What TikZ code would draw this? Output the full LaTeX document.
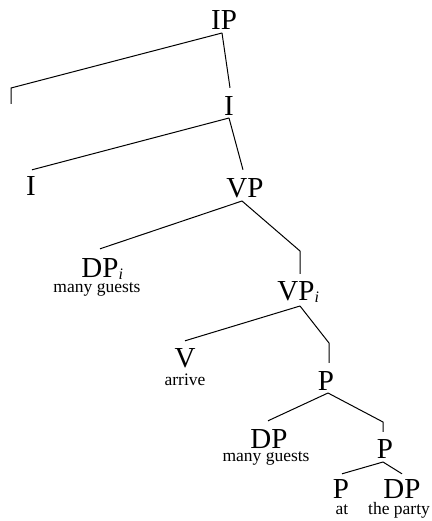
\documentclass[tikz,border=0pt]{standalone}
\usepackage{fontspec}
\setmainfont{Liberation Serif}
\newcommand\idx{\rlap{\raisebox{-0.1em}{\fontsize{16}{16}\itshape\selectfont i}}}
\tikzset{
  cat/.style={anchor=base,inner sep=0pt,font=\fontsize{29}{29}\selectfont},
  lex/.style={anchor=base,inner sep=0pt,font=\fontsize{17.5}{17.5}\selectfont},
  branch/.style={line width=1pt,line join=round}
}
\begin{document}
\begin{tikzpicture}[x=1pt,y=-1pt]
\useasboundingbox (0,0) rectangle (431,521);
% nodes
\node[cat] (ip) at (224,30) {IP};
\node[cat] (i1) at (229,116) {I};
\node[cat] (i0) at (31,196) {I};
\node[cat] (vp) at (245,197) {VP};
\node[cat] (dpi) at (100,277) {DP\idx};
\node[lex] (mg1) at (97,292) {many guests};
\node[cat] (vpi) at (296,300) {VP\idx};
\node[cat] (v) at (185,367) {V};
\node[lex] (arr) at (185,385) {arrive};
\node[cat] (p1) at (326,390) {P};
\node[cat] (dp) at (269,448) {DP};
\node[lex] (mg2) at (266,461) {many guests};
\node[cat] (p2) at (385,458) {P};
\node[cat] (p3) at (341,498) {P};
\node[lex] (at) at (342,514) {at};
\node[cat] (dp2) at (402,498) {DP};
\node[lex] (party) at (399,514) {the party};
% apex points below mothers
\coordinate (ipA) at ([xshift=-2pt,yshift=-3pt]ip.base);
\coordinate (i1A) at ([yshift=-2pt]i1.base);
\coordinate (vpA) at ([xshift=-3pt,yshift=-4pt]vp.base);
\coordinate (vpiA) at ([xshift=4pt,yshift=-6pt]vpi.base);
\coordinate (p1A) at ([xshift=2pt,yshift=-3pt]p1.base);
\coordinate (p2A) at ([xshift=-2pt,yshift=-4pt]p2.base);
% bend points and free end
\coordinate (bL) at (11,88);
\coordinate (eL) at (11,104);
\coordinate (b2) at (300,251);
\coordinate (b3) at (329,343);
\coordinate (b4) at (383,422);
\coordinate (vpiT) at ([yshift=7pt]vpi.north);
\coordinate (p1T) at ([yshift=8pt]p1.north);
\coordinate (p2T) at ([yshift=7pt]p2.north);
% branches
\draw[branch] (ipA) -- (bL) -- (eL);
\draw[branch] (ipA) -- ([xshift=1pt,yshift=9pt]i1.north);
\draw[branch] (i1A) -- ([xshift=1pt,yshift=7pt]i0.north);
\draw[branch] (i1A) -- ([xshift=-2pt,yshift=8pt]vp.north);
\draw[branch] (vpA) -- ([yshift=9pt]dpi.north);
\draw[branch] (vpA) -- (b2) -- (b2 |- vpiT);
\draw[branch] (vpiA) -- ([yshift=7pt]v.north);
\draw[branch] (vpiA) -- (b3) -- (b3 |- p1T);
\draw[branch] (p1A) -- ([xshift=-1pt,yshift=8pt]dp.north);
\draw[branch] (p1A) -- (b4) -- (b4 |- p2T);
\draw[branch] (p2A) -- ([xshift=1pt,yshift=5pt]p3.north);
\draw[branch] (p2A) -- ([yshift=5pt]dp2.north);
\end{tikzpicture}
\end{document}
